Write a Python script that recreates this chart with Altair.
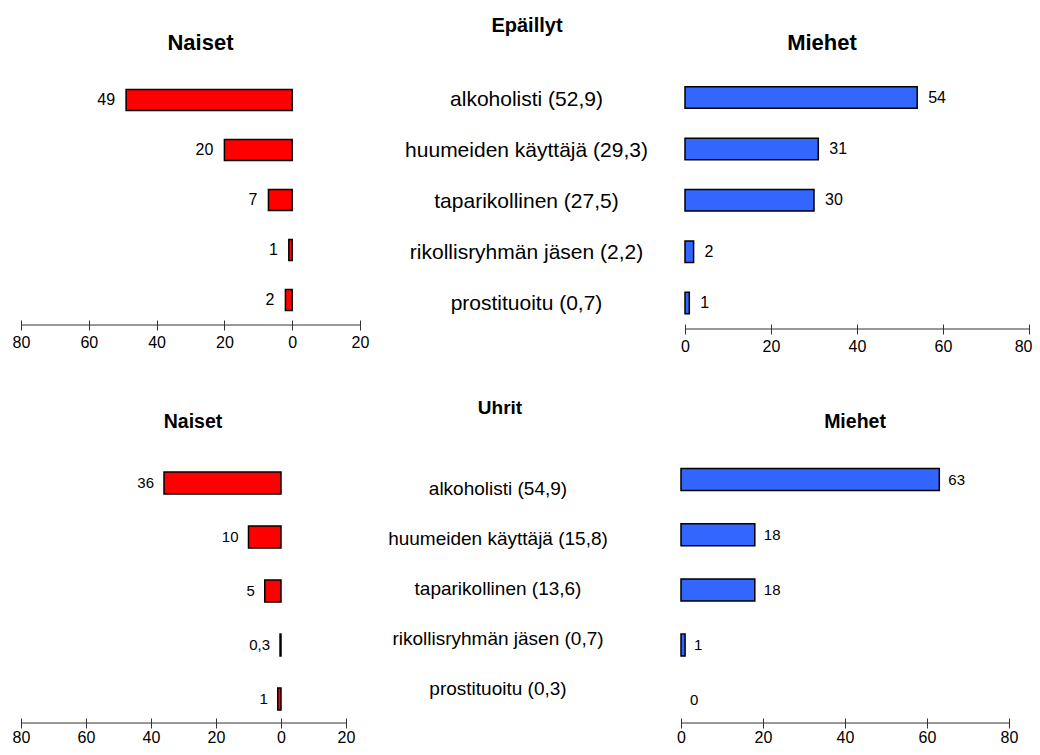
import altair as alt
import pandas as pd

categories = ["alkoholisti", "huumeiden käyttäjä", "taparikollinen",
              "rikollisryhmän jäsen", "prostituoitu"]
suspect_totals = [52.9, 29.3, 27.5, 2.2, 0.7]
victim_totals = [54.9, 15.8, 13.6, 0.7, 0.3]
suspect_women = [49, 20, 7, 1, 2]
suspect_men = [54, 31, 30, 2, 1]
victim_women = [36, 10, 5, 0.3, 1]
victim_men = [63, 18, 18, 1, 0]
left_ticks = [80, 60, 40, 20, 0, -20]
right_ticks = [0, 20, 40, 60, 80]

REG = "Liberation Sans"


def fi(v):
    return f"{v:g}".replace(".", ",")


def frame(values):
    return pd.DataFrame({"cat": categories, "v": values,
                         "lab": [fi(v) for v in values]})


def bar_panel(values, side, width, height, band, title, tsize, tdx,
              toffset, lab_size, lab_dx, lab_pad, flush_last=False):
    df = frame(values)
    if side == "left":
        xscale = alt.Scale(domain=[-20, 80], reverse=True, nice=False)
        ticks, color, align, lo, hi = left_ticks, "#FF0000", "right", -20, 80
    else:
        xscale = alt.Scale(domain=[0, 80], nice=False)
        ticks, color, align, lo, hi = right_ticks, "#3366FF", "left", 0, 80
    pi, po, al = band
    yscale = alt.Scale(paddingInner=pi, paddingOuter=po, align=al)
    extra = {}
    if flush_last:
        extra = dict(
            labelAlign={"condition": {"test": "datum.value == 80", "value": "right"},
                        "value": "center"},
            labelOffset={"condition": {"test": "datum.value == 80", "value": 3},
                         "value": 0},
        )
    axis = alt.Axis(values=ticks, labelExpr="'' + abs(datum.value)", title=None,
                    grid=False, domain=False, tickSize=10, offset=-5,
                    tickColor="#333333", tickWidth=1, labelPadding=lab_pad,
                    labelFont=REG, labelFontSize=16, labelColor="black",
                    labelFlush=False, **extra)
    y = alt.Y("cat:N", sort=categories, scale=yscale, axis=None)
    base = alt.Chart(df)
    bars = base.transform_filter("datum.v > 0").mark_bar(
        color=color, stroke="black", strokeWidth=1.5
    ).encode(x=alt.X("v:Q", scale=xscale, axis=axis), x2=alt.datum(0), y=y)
    labels = base.mark_text(
        align=align, baseline="middle", dx=lab_dx, font=REG,
        fontSize=lab_size, color="black"
    ).encode(x=alt.X("v:Q"), y=y, text="lab:N")
    line = alt.Chart(pd.DataFrame({"lo": [lo], "hi": [hi]})).mark_rule(
        color="#333333", strokeWidth=1
    ).encode(x=alt.X("lo:Q"), x2="hi:Q", y=alt.value(height))
    return alt.layer(line, bars, labels).properties(
        width=width, height=height,
        title=alt.TitleParams(title, font=REG, fontSize=tsize,
                              fontWeight="bold", color="black",
                              anchor="middle", frame="group", dx=tdx,
                              offset=toffset))


def mid_panel(totals, width, height, pad, al, size, dx, title,
              tsize, tdx, toffset):
    df = pd.DataFrame({"cat": categories,
                       "t": [f"{c} ({fi(v)})" for c, v in zip(categories, totals)]})
    return alt.Chart(df).mark_text(
        font=REG, fontSize=size, dx=dx, baseline="middle", align="center",
        color="black"
    ).encode(
        y=alt.Y("cat:N", sort=categories,
                scale=alt.Scale(type="point", padding=pad, align=al), axis=None),
        text="t:N"
    ).properties(
        width=width, height=height,
        title=alt.TitleParams(title, font=REG, fontSize=tsize,
                              fontWeight="bold", color="black",
                              anchor="middle", frame="group", dx=tdx,
                              offset=toffset))


tl = bar_panel(suspect_women, "left", 339, 250, (0.58, 0.29, 0.5),
               "Naiset", 22, 10, 20.5, 16, -11, 4)
tm = mid_panel(suspect_totals, 325, 250, 0.45, 0.545, 21, 4,
               "Epäillyt", 20, 4.5, 39)
tr = bar_panel(suspect_men, "right", 344, 254, (0.582, 0.262, 0.437),
               "Miehet", 22, -35, 20.5, 16, 11, 4, flush_last=True)
bl = bar_panel(victim_women, "left", 325, 268, (0.593, 0.278, 0.567),
               "Naiset", 19.5, 9.5, 22.5, 15, -10, 1)
bm = mid_panel(victim_totals, 335, 268, 0.68, 0.5, 19, -15.5,
               "Uhrit", 19, -13.5, 37.5)
br = bar_panel(victim_men, "right", 328, 268, (0.601, 0.228, 0.536),
               "Miehet", 19.5, 10, 23, 15, 9, 1)

row1 = alt.hconcat(tl, tm, tr, spacing=0, bounds="flush").resolve_scale(
    x="independent", y="independent")
row2 = alt.hconcat(bl, bm, br, spacing=0, bounds="flush").resolve_scale(
    x="independent", y="independent")

chart = alt.vconcat(row1, row2, spacing=380, bounds="flush").resolve_scale(
    x="independent", y="independent"
).configure_view(strokeWidth=0).properties(
    autosize=alt.AutoSizeParams(type="none"),
    padding={"left": 13, "top": 67, "right": 1011, "bottom": 671}
)

chart.save("out.html", embed_options={"renderer": "svg", "actions": False})
